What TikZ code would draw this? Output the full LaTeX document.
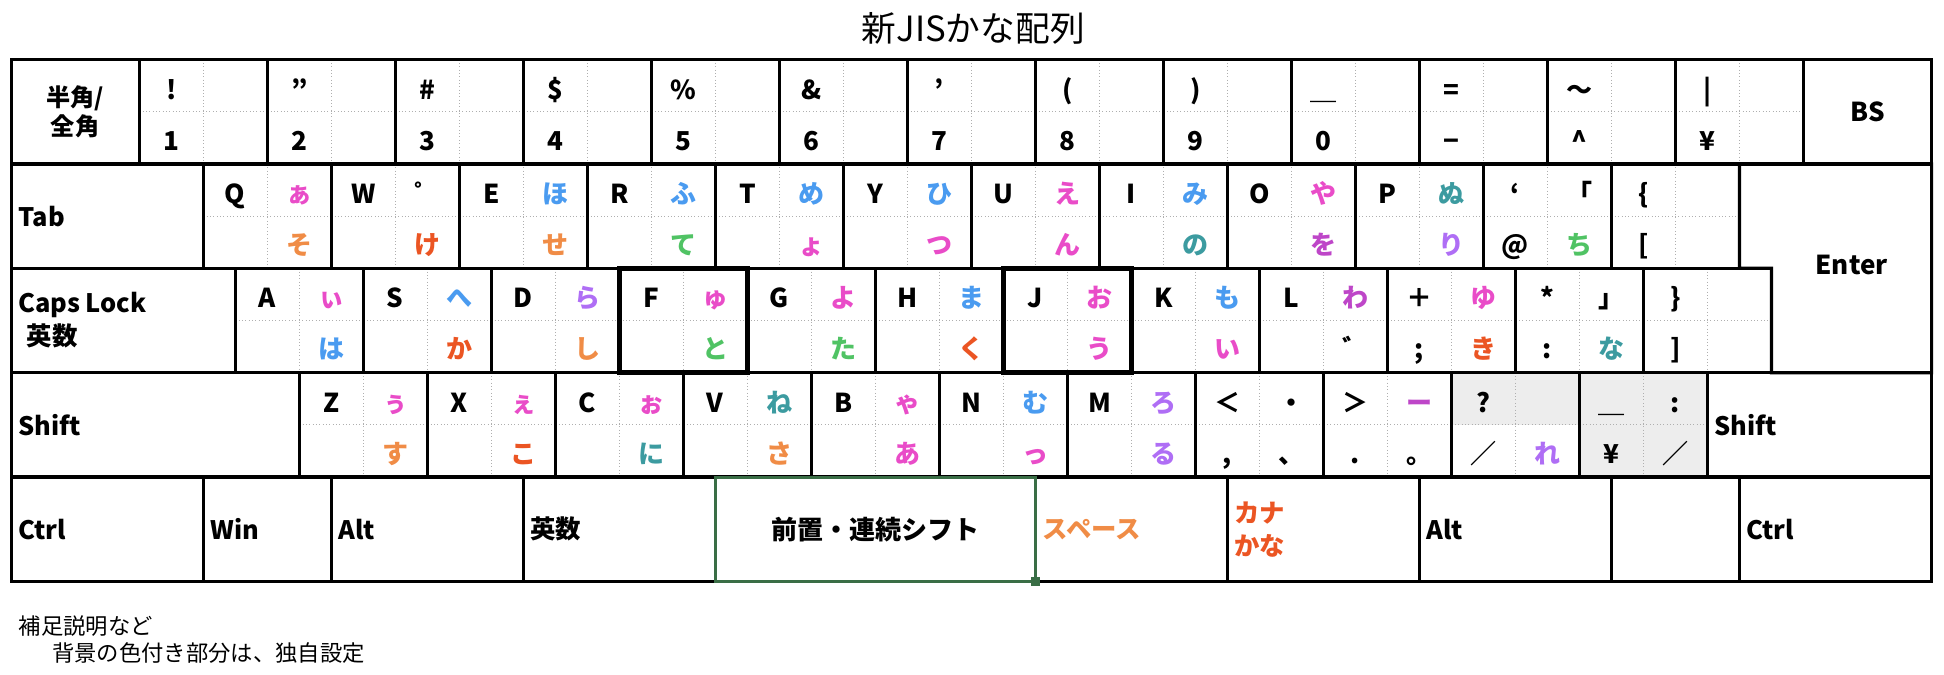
\documentclass[tikz,border=0pt]{standalone}
\usepackage{fontspec}
\setmainfont{Noto Sans CJK JP}
\usepackage{tikz}
\usetikzlibrary{calc}
\definecolor{kpink}{RGB}{233,76,200}
\definecolor{kblue}{RGB}{74,155,240}
\definecolor{korange}{RGB}{240,140,70}
\definecolor{kred}{RGB}{235,85,35}
\definecolor{kgreen}{RGB}{80,195,100}
\definecolor{kteal}{RGB}{60,155,160}
\definecolor{kpurple}{RGB}{175,110,245}
\definecolor{kmag}{RGB}{190,70,200}
\definecolor{kshade}{RGB}{237,237,237}
\definecolor{kgrid}{RGB}{175,175,175}
\definecolor{kselect}{RGB}{58,110,70}
\newcommand\kpink[1]{\textcolor{kpink}{#1}}
\newcommand\kblue[1]{\textcolor{kblue}{#1}}
\newcommand\korange[1]{\textcolor{korange}{#1}}
\newcommand\kred[1]{\textcolor{kred}{#1}}
\newcommand\kgreen[1]{\textcolor{kgreen}{#1}}
\newcommand\kteal[1]{\textcolor{kteal}{#1}}
\newcommand\kpurple[1]{\textcolor{kpurple}{#1}}
\newcommand\kmag[1]{\textcolor{kmag}{#1}}
\pgfdeclarelayer{shade}\pgfdeclarelayer{grid}
\pgfsetlayers{shade,grid,main}
% grid: column width, row height, origin
\def\cw{51.633}\def\rh{84.2}\def\xo{9}\def\yo{496}
\newcommand\kblab[3]{\if\relax\detokenize{#3}\relax\else
  \node[klab] (#1) at (#2) {#3};\fi}
% key with four cells
\newcommand\kbkey[8][]{%
  \node[keybox,#1,minimum width={2*\cw*1pt},anchor=north west] (#2) at ({\xo+#3*\cw},{\yo-#4*\rh}) {};
  \begin{pgfonlayer}{grid}
    \draw[midline] (#2.north) -- (#2.south);
    \draw[midline] (#2.west) -- (#2.east);
  \end{pgfonlayer}
  \kblab{#2-tl}{$(#2.north west)+(0.5*\cw,-32)$}{#5}
  \kblab{#2-tr}{$(#2.north west)+(1.5*\cw,-32)$}{#6}
  \kblab{#2-bl}{$(#2.north west)+(0.5*\cw,-73)$}{#7}
  \kblab{#2-br}{$(#2.north west)+(1.5*\cw,-73)$}{#8}}
% wide key, text at the left
\newcommand\kbside[6][]{%
  \node[keybox,minimum width={#5*\cw*1pt},anchor=north west,#1] (#2) at ({\xo+#3*\cw},{\yo-#4*\rh}) {};
  \if\relax\detokenize{#6}\relax\else
  \node[sidelab] (#2-l) at ($(#2.west)+(5.5,0)$) {#6};\fi}

\begin{document}
\begin{tikzpicture}[x=1pt,y=1pt,
  keyfont/.style={font=\fontsize{21}{23}\selectfont\bfseries},
  keybox/.style={draw,line width=2.6pt,inner sep=0pt,outer sep=0pt,minimum height={\rh*1pt},keyfont,align=center},
  homekey/.style={line width=3.6pt},
  midline/.style={draw=kgrid,dotted,line width=0.7pt},
  klab/.style={keyfont,anchor=base,inner sep=0pt},
  sidelab/.style={anchor=west,inner sep=0pt,align=left,font=\fontsize{20.5}{26.5}\selectfont\bfseries},
  note/.style={font=\fontsize{18}{20}\selectfont,anchor=west,inner sep=0pt}]
\useasboundingbox (0,0) rectangle (1568,544);
\node[font=\fontsize{28}{30}\selectfont] (title) at (785,521) {新JISかな配列};

% number row
\node[keybox,minimum width={2*\cw*1pt},anchor=north west,font=\fontsize{19.5}{23}\selectfont\bfseries] (hz) at (\xo,\yo) {半角/\\全角};
\kbkey{k1}{2}{0}{!}{}{1}{}
\kbkey{k2}{4}{0}{”}{}{2}{}
\kbkey{k3}{6}{0}{\#}{}{3}{}
\kbkey{k4}{8}{0}{\$}{}{4}{}
\kbkey{k5}{10}{0}{\%}{}{5}{}
\kbkey{k6}{12}{0}{\&}{}{6}{}
\kbkey{k7}{14}{0}{’}{}{7}{}
\kbkey{k8}{16}{0}{(}{}{8}{}
\kbkey{k9}{18}{0}{)}{}{9}{}
\kbkey{k0}{20}{0}{＿}{}{0}{}
\kbkey{kmin}{22}{0}{=}{}{−}{}
\kbkey{kcar}{24}{0}{～}{}{\textasciicircum}{}
\kbkey{kyen}{26}{0}{|}{}{¥}{}
\node[keybox,minimum width={2*\cw*1pt},anchor=north west] (bs) at ({\xo+28*\cw},\yo) {BS};

% top letter row
\kbside{tab}{0}{1}{3}{Tab}
\kbkey{kq}{3}{1}{Q}{\kpink{ぁ}}{}{\korange{そ}}
\kbkey{kw}{5}{1}{W}{゜}{}{\kred{け}}
\kbkey{ke}{7}{1}{E}{\kblue{ほ}}{}{\korange{せ}}
\kbkey{kr}{9}{1}{R}{\kblue{ふ}}{}{\kgreen{て}}
\kbkey{kt}{11}{1}{T}{\kblue{め}}{}{\kpink{ょ}}
\kbkey{ky}{13}{1}{Y}{\kblue{ひ}}{}{\kpink{つ}}
\kbkey{ku}{15}{1}{U}{\kpink{え}}{}{\kpink{ん}}
\kbkey{ki}{17}{1}{I}{\kblue{み}}{}{\kteal{の}}
\kbkey{ko}{19}{1}{O}{\kpink{や}}{}{\kmag{を}}
\kbkey{kp}{21}{1}{P}{\kteal{ぬ}}{}{\kpurple{り}}
\kbkey{kat}{23}{1}{‘}{「}{@}{\kgreen{ち}}
\kbkey{klb}{25}{1}{\{}{}{[}{}

% home row
\kbside{caps}{0}{2}{3.5}{Caps Lock\\\hspace*{7pt}英数}
\kbkey{ka}{3.5}{2}{A}{\kpink{ぃ}}{}{\kblue{は}}
\kbkey{ks}{5.5}{2}{S}{\kblue{へ}}{}{\kred{か}}
\kbkey{kd}{7.5}{2}{D}{\kpurple{ら}}{}{\korange{し}}
\kbkey[homekey]{kf}{9.5}{2}{F}{\kpink{ゅ}}{}{\kgreen{と}}
\kbkey{kg}{11.5}{2}{G}{\kpink{よ}}{}{\kgreen{た}}
\kbkey{kh}{13.5}{2}{H}{\kblue{ま}}{}{\kred{く}}
\kbkey[homekey]{kj}{15.5}{2}{J}{\kpink{お}}{}{\kpink{う}}
\kbkey{kk}{17.5}{2}{K}{\kblue{も}}{}{\kpink{い}}
\kbkey{kl}{19.5}{2}{L}{\kmag{わ}}{}{゛}
\kbkey{ksc}{21.5}{2}{＋}{\kpink{ゆ}}{;}{\kred{き}}
\kbkey{kco}{23.5}{2}{*}{」}{:}{\kteal{な}}
\kbkey{krb}{25.5}{2}{\}}{}{]}{}
\draw[line width=2.6pt] (klb.north east) -- (bs.south east) -- ($(bs.south east)+(0,-2*\rh)$)
  -- (krb.south east) -- (krb.north east) -- (klb.south east) -- cycle;
\node[keyfont,inner sep=0pt] (enter) at ({\xo+28.75*\cw},{\yo-2*\rh+3}) {Enter};
\draw[homekey] (kf.north west) rectangle (kf.south east);

% bottom letter row
\kbside{lsh}{0}{3}{4.5}{Shift}
\kbkey{kz}{4.5}{3}{Z}{\kpink{ぅ}}{}{\korange{す}}
\kbkey{kx}{6.5}{3}{X}{\kpink{ぇ}}{}{\kred{こ}}
\kbkey{kc}{8.5}{3}{C}{\kpink{ぉ}}{}{\kteal{に}}
\kbkey{kv}{10.5}{3}{V}{\kteal{ね}}{}{\korange{さ}}
\kbkey{kb}{12.5}{3}{B}{\kpink{ゃ}}{}{\kpink{あ}}
\kbkey{kn}{14.5}{3}{N}{\kblue{む}}{}{\kpink{っ}}
\kbkey{km}{16.5}{3}{M}{\kpurple{ろ}}{}{\kpurple{る}}
\kbkey{kcm}{18.5}{3}{＜}{・}{,}{、}
\kbkey{kdt}{20.5}{3}{＞}{\kmag{ー}}{.}{。}
\kbkey{ksl}{22.5}{3}{?}{}{／}{\kpurple{れ}}
\kbkey{kus}{24.5}{3}{＿}{:}{¥}{／}
\kbside{rsh}{26.5}{3}{3.5}{Shift}
\begin{pgfonlayer}{shade}
  \fill[kshade] (ksl.north west) rectangle (ksl.east);
  \fill[kshade] (kus.north west) rectangle (kus.south east);
\end{pgfonlayer}

% space row
\kbside{lctrl}{0}{4}{3}{Ctrl}
\kbside{win}{3}{4}{2}{Win}
\kbside{lalt}{5}{4}{3}{Alt}
\kbside{eisu}{8}{4}{3}{英数}
\kbside{space}{16}{4}{3}{\korange{スペース}}
\kbside{kana}{19}{4}{3}{\kred{カナ}\\\kred{かな}}
\kbside{ralt}{22}{4}{3}{Alt}
\kbside{blank}{25}{4}{2}{}
\kbside{rctrl}{27}{4}{3}{Ctrl}
\node[keybox,draw=kselect,line width=2.4pt,minimum width={5*\cw*1pt},anchor=north west] (pre) at ({\xo+11*\cw},{\yo-4*\rh}) {前置・連続シフト};
\node[fill=kselect,minimum size=7pt,inner sep=0pt] (hdl) at (pre.south east) {};

\node[note] (note1) at (15,39) {補足説明など};
\node[note] (note2) at (42,17) {背景の色付き部分は、独自設定};
\end{tikzpicture}
\end{document}
